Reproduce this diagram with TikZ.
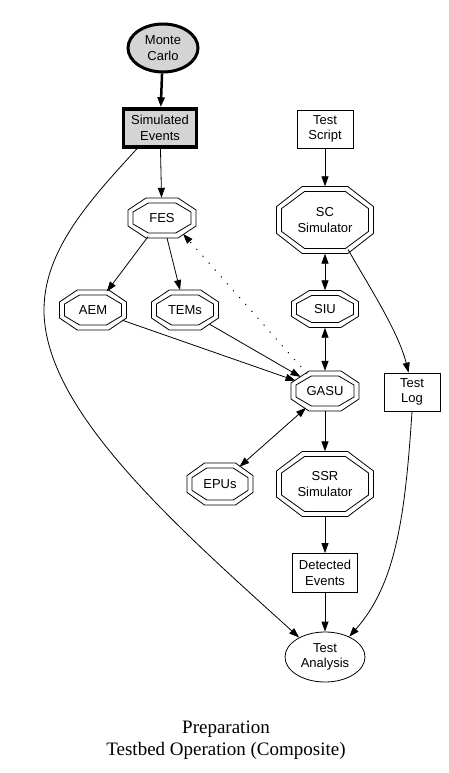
\documentclass[tikz,border=0pt]{standalone}
\usepackage{fontspec}
\setmainfont{Liberation Serif}
\newfontfamily\arialf{Liberation Sans}
\usetikzlibrary{arrows.meta,shapes.geometric}
\tikzset{
  conn/.style={line width=0.8pt,-{Triangle[length=10pt,width=7pt]}},
  biconn/.style={line width=0.8pt,{Triangle[length=10pt,width=7pt]}-{Triangle[length=10pt,width=7pt]}},
  dotconn/.style={line width=0.9pt,dash pattern=on 1.2pt off 8pt,-{Triangle[length=10pt,width=7pt]}},
  octline/.style={line width=0.8pt},
  lbl/.style={font=\arialf\fontsize{13}{15.5}\selectfont,align=center,inner sep=0pt},
  octnode/.style={lbl,ellipse,draw=none},
  boxnode/.style={lbl,rectangle,draw,line width=0.8pt},
  ovalnode/.style={lbl,ellipse,draw,line width=0.8pt},
}
\newcommand{\octring}[4]{%
  \draw[octline] ({#1+(#3)},{#2-0.4*(#4)}) -- ({#1+(#3)},{#2+0.4*(#4)})
   -- ({#1+0.47*(#3)},{#2+(#4)}) -- ({#1-0.47*(#3)},{#2+(#4)})
   -- ({#1-(#3)},{#2+0.4*(#4)}) -- ({#1-(#3)},{#2-0.4*(#4)})
   -- ({#1-0.47*(#3)},{#2-(#4)}) -- ({#1+0.47*(#3)},{#2-(#4)}) -- cycle;}
\newcommand{\dbloct}[6]{%
  \node[octnode,minimum width=#4pt,minimum height=#5pt] (#1) at (#2,#3) {#6};
  \octring{#2}{#3}{#4/2}{#5/2}
  \octring{#2}{#3}{#4/2-5}{#5/2-5}}
\begin{document}
\begin{tikzpicture}[x=1pt,y=-1pt]
\useasboundingbox[fill=white] (0,0) rectangle (448,773);
% nodes
\node[ovalnode,fill=black!17,line width=3pt,minimum width=70pt,minimum height=48pt] (mc) at (163,48) {Monte\\Carlo};
\node[boxnode,fill=black!17,line width=3.5pt,minimum width=73pt,minimum height=38pt] (se) at (160,128) {Simulated\\Events};
\node[boxnode,minimum width=56pt,minimum height=38pt] (ts) at (325,129) {Test\\Script};
\dbloct{fes}{162}{218}{68}{40}{FES}
\dbloct{sc}{325}{220}{97}{67}{SC\\Simulator}
\dbloct{aem}{93}{310}{67}{40}{AEM}
\dbloct{tems}{185}{310}{67}{40}{TEMs}
\dbloct{siu}{325}{309}{67}{37}{SIU}
\dbloct{gasu}{325}{391}{68}{40}{GASU}
\node[boxnode,minimum width=56pt,minimum height=38pt] (tl) at (412,392) {Test\\Log};
\dbloct{epus}{220}{484}{66}{42}{EPUs}
\dbloct{ssr}{325}{484}{97}{65}{SSR\\Simulator}
\node[boxnode,minimum width=65pt,minimum height=39pt] (de) at (325,573) {Detected\\Events};
\node[ovalnode,minimum width=80pt,minimum height=50pt] (ta) at (325,657) {Test\\Analysis};
\node[font=\fontsize{19}{21.5}\selectfont,align=center,inner sep=0pt] (title) at (226,740) {Preparation\\Testbed Operation (Composite)};
% connectors
\draw[conn,line width=2.5pt] (mc) -- (se);
\draw[conn] (se) -- (fes);
\draw[conn] (se.222) .. controls (90,200) and (44,250) .. (44,310) .. controls (44,410) and (175,525) .. (ta.143);
\draw[conn] (fes) -- (aem);
\draw[conn] (fes) -- (tems);
\draw[conn] (aem) -- (gasu);
\draw[conn] (tems) -- (gasu);
\draw[dotconn] (gasu.136) -- (fes.-37);
\draw[conn] (ts) -- (sc);
\draw[biconn] (sc) -- (siu);
\draw[biconn] (siu) -- (gasu);
\draw[conn] (sc.-52) .. controls (365,280) and (398,330) .. (tl.100);
\draw[biconn] (gasu) -- (epus);
\draw[conn] (gasu) -- (ssr);
\draw[conn] (ssr) -- (de);
\draw[conn] (de) -- (ta);
\draw[conn] (tl.south) .. controls (405,520) and (395,585) .. (ta.40);
\end{tikzpicture}
\end{document}
